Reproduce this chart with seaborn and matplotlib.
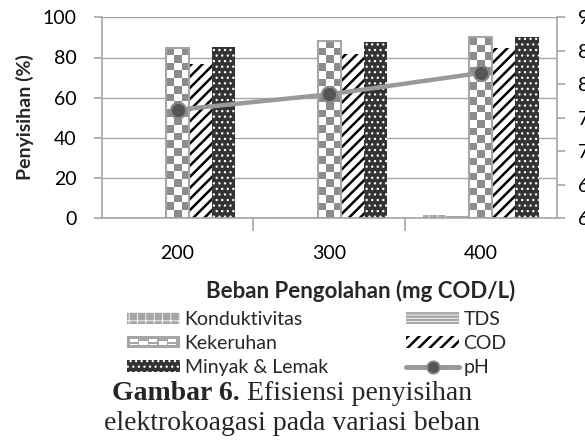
import numpy as np
import pandas as pd
import matplotlib
matplotlib.use("Agg")
import matplotlib.pyplot as plt
import seaborn as sns
from matplotlib.patches import Rectangle
from matplotlib.lines import Line2D
from matplotlib.legend_handler import HandlerBase
from matplotlib.colors import ListedColormap

# ---------------- data ----------------
beban = ["200", "300", "400"]
params = ["Konduktivitas", "TDS", "Kekeruhan", "COD", "Minyak & Lemak"]
konduktivitas = [0.2, 0.8, 1.5]
tds = [0.3, 0.8, 1.0]
kekeruhan = [84.6, 88.4, 90.0]
cod = [76.8, 81.6, 84.9]
minyak = [85.4, 87.9, 90.0]
ph = [7.62, 7.85, 8.17]
left_ticks = [0, 20, 40, 60, 80, 100]
right_ticks = [6, 6.5, 7, 7.5, 8, 8.5, 9]

series = {"Konduktivitas": konduktivitas, "TDS": tds, "Kekeruhan": kekeruhan,
          "COD": cod, "Minyak & Lemak": minyak}
rows = []
for p in params:
    for b, v in zip(beban, series[p]):
        rows.append({"Beban": b, "Parameter": p, "Nilai": v})
df = pd.DataFrame(rows)
df_ph = pd.DataFrame({"Beban": beban, "pH": ph})

sns.set_theme(style="white")
plt.rcParams["font.family"] = ["Lato", "DejaVu Sans"]
plt.rcParams["hatch.linewidth"] = 1.8

GREY = "#a6a6a6"
W, H = 585, 441
fig = plt.figure(figsize=(W / 100, H / 100), dpi=100)
ax = fig.add_axes([101.7 / W, 1 - 218.3 / H, (556.7 - 101.7) / W, (218.3 - 17.3) / H])

sns.barplot(data=df, x="Beban", y="Nilai", hue="Parameter", order=beban,
            hue_order=params, width=0.76, ax=ax, legend=False, saturation=1,
            errorbar=None)

styles = {
    "Konduktivitas": dict(facecolor="#a6a6a6", edgecolor="white", hatch="++", linewidth=0),
    "TDS": dict(facecolor="#a6a6a6", edgecolor="white", hatch="-----", linewidth=0),
    "Kekeruhan": dict(facecolor="none", edgecolor=GREY, linewidth=1.5),
    "COD": dict(facecolor="white", edgecolor="black", hatch="///", linewidth=0),
    "Minyak & Lemak": dict(facecolor="#333333", edgecolor="white", hatch="...", linewidth=0),
}
hatch_lw = {"Konduktivitas": 0.6, "TDS": 0.6, "COD": 1.8, "Minyak & Lemak": 0.9}


def set_hlw(patch, name):
    if name in hatch_lw and hasattr(patch, "set_hatch_linewidth"):
        patch.set_hatch_linewidth(hatch_lw[name])


checker_cmap = ListedColormap(["white", "#8c8c8c"])
for p, cont in zip(params, ax.containers):
    for bar in cont:
        bar.set(**styles[p])
        set_hlw(bar, p)
        if p == "Kekeruhan":
            bar.set_zorder(3)
            x0, w, h = bar.get_x(), bar.get_width(), bar.get_height()
            ny = max(1, int(round(h / 3.8)))
            arr = np.add.outer(np.arange(ny), np.arange(3)) % 2
            im = ax.imshow(arr, cmap=checker_cmap, extent=(x0, x0 + w, 0, h),
                           origin="lower", aspect="auto", interpolation="nearest",
                           zorder=2.5)
            im.set_clip_path(bar)

ax.set_xlim(-0.5, 2.5)
ax.set_ylim(0, 100)
ax.set_yticks(left_ticks)
ax.yaxis.grid(True, color=GREY, linewidth=1)
ax.set_axisbelow(True)
ax.set_xlabel("")
ax.set_ylabel("")
for s in ["top", "right"]:
    ax.spines[s].set_visible(False)
for s in ["left", "bottom"]:
    ax.spines[s].set_color(GREY)
    ax.spines[s].set_linewidth(1.2)

# ---------- pH on secondary axis ----------
ax2 = ax.twinx()
sns.pointplot(data=df_ph, x="Beban", y="pH", order=beban, ax=ax2, color="#999999",
              markers="o", errorbar=None)
ln = ax2.lines[0]
ln.set_linewidth(3.2)
ln.set_markersize(11)
ln.set_markerfacecolor("#555555")
ln.set_markeredgecolor("#8a8a8a")
ln.set_markeredgewidth(1.5)
ln.set_zorder(5)
ax2.set_ylim(6, 9)
ax2.set_yticks(right_ticks)
ax2.set_yticklabels([f"{t:g}" for t in right_ticks])
ax2.set_ylabel("")
ax2.set_xlabel("")
for s in ["top", "left", "bottom"]:
    ax2.spines[s].set_visible(False)
ax2.spines["right"].set_color(GREY)
ax2.spines["right"].set_linewidth(1.2)
ax2.tick_params(axis="y", length=6, width=1.2, color=GREY, pad=9, labelsize=14,
                direction="out", right=True, labelcolor="black")

ax.set_xlim(-0.5, 2.5)
ax.set_xticks([0, 1, 2])
ax.set_xticklabels(beban)
ax.set_xticks([0.5, 1.5], minor=True)
ax.tick_params(axis="x", which="major", length=0, pad=19, labelsize=14, labelcolor="black")
ax.tick_params(axis="x", which="minor", length=9, width=1.2, color=GREY, direction="out",
               bottom=True)
ax.tick_params(axis="y", length=6, width=1.2, color=GREY, pad=12, labelsize=14,
               direction="out", left=True, labelcolor="black")

# ---------- axis titles ----------
fig.text(361 / W, 1 - 291 / H, "Beban Pengolahan (mg COD/L)", ha="center", va="center",
         fontsize=16, fontweight="bold")
fig.text(25 / W, 1 - 117 / H, "Penyisihan (%)", ha="center", va="center", rotation=90,
         fontsize=14, fontweight="bold")

# ---------- legend ----------
class CheckerHandler(HandlerBase):
    def create_artists(self, legend, orig_handle, xdescent, ydescent, width, height,
                       fontsize, trans):
        x0, y0 = -xdescent, -ydescent
        arts = [Rectangle((x0, y0), width, height, facecolor=GREY, edgecolor="none",
                          transform=trans)]
        b = 2.0
        nx = 5
        cw = (width - 2 * b) / nx
        chh = (height - 2 * b) / 2
        for i in range(nx):
            for j in range(2):
                if (i + j) % 2 == 0:
                    arts.append(Rectangle((x0 + b + i * cw, y0 + b + (1 - j) * chh),
                                          cw * 0.85, chh, facecolor="white",
                                          edgecolor="none", transform=trans))
                else:
                    arts.append(Rectangle((x0 + b + i * cw, y0 + b + (1 - j) * chh),
                                          cw * 0.85, chh * 0.5, facecolor="white",
                                          edgecolor="none", transform=trans))
        return arts


h_kond = Rectangle((0, 0), 1, 1, **styles["Konduktivitas"])
h_tds = Rectangle((0, 0), 1, 1, **styles["TDS"])
h_kek = Rectangle((0, 0), 1, 1, facecolor="white", edgecolor=GREY)
h_cod = Rectangle((0, 0), 1, 1, **styles["COD"])
h_min = Rectangle((0, 0), 1, 1, **styles["Minyak & Lemak"])
h_ph = Line2D([], [], color="#999999", linewidth=3.6, marker="o", markersize=9,
              markerfacecolor="#555555", markeredgecolor="#8a8a8a", markeredgewidth=1.2)

handles = [h_kond, h_kek, h_min, h_tds, h_cod, h_ph]
names = ["Konduktivitas", "Kekeruhan", "Minyak & Lemak", "TDS", "COD", "pH"]
leg = fig.legend(handles, names, loc="upper left", bbox_to_anchor=(127 / W, 1 - 311 / H),
                 ncol=2, frameon=False, fontsize=14, handlelength=2.75, handleheight=0.55,
                 handletextpad=0.22, labelspacing=0.36, columnspacing=4.0, borderpad=0,
                 borderaxespad=0, handler_map={h_kek: CheckerHandler()})
for hh, nm in zip(leg.legend_handles, names):
    if isinstance(hh, Rectangle):
        set_hlw(hh, nm)

# ---------- caption ----------
renderer = fig.canvas.get_renderer()
cap_y1 = 1 - 394 / H
tb = fig.text(0, cap_y1, "Gambar 6.", fontsize=20, fontweight="bold",
              family="Liberation Serif", ha="left", va="center")
tr = fig.text(0, cap_y1, " Efisiensi penyisihan", fontsize=20,
              family="Liberation Serif", ha="left", va="center")
wb = tb.get_window_extent(renderer).width
wr = tr.get_window_extent(renderer).width
start = 292 - (wb + wr) / 2
tb.set_x(start / W)
tr.set_x((start + wb) / W)
fig.text(292 / W, 1 - 423 / H, "elektrokoagasi pada variasi beban", fontsize=20,
         family="Liberation Serif", ha="center", va="center")

fig.savefig("out.png", dpi=100)
